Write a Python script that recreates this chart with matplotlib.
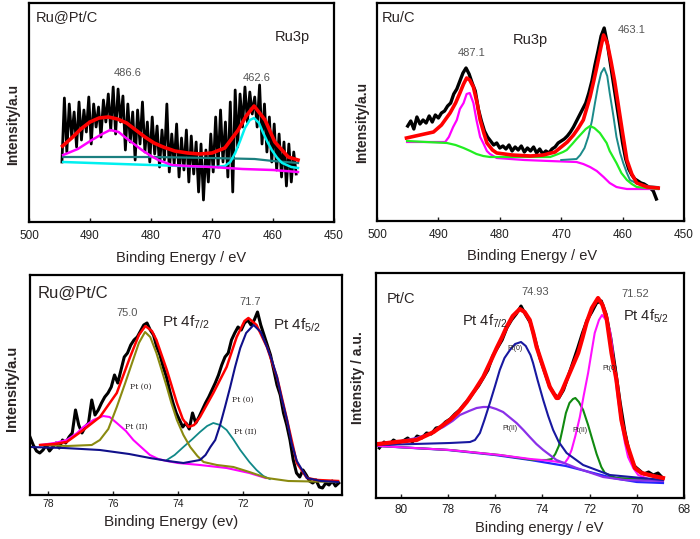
import numpy as np
import matplotlib
matplotlib.use("Agg")
import matplotlib.pyplot as plt

plt.rcParams['font.family'] = ['Liberation Sans', 'DejaVu Sans']
plt.rcParams['mathtext.default'] = 'regular'

# ---------------- Panel 1: Ru@Pt/C Ru3p ----------------
p1_black = [60, 124, 70, 118, 85, 110, 75, 120, 82, 112, 90, 125, 78, 118, 95, 115, 85, 122, 100, 128,
            92, 135, 88, 133, 100, 126, 72, 118, 80, 110, 62, 112, 78, 120, 70, 100, 60, 105, 68, 96,
            55, 92, 62, 118, 50, 88, 58, 98, 45, 84, 52, 92, 40, 86, 48, 80, 30, 78, 22, 72,
            40, 88, 50, 105, 55, 112, 60, 100, 45, 120, 30, 132, 75, 128, 95, 135, 100, 130, 108, 125,
            95, 137, 78, 118, 70, 105, 60, 98, 52, 88, 45, 80, 36, 78, 40, 70, 48]
p1_black_range = (494.6, 456.2)
p1_red_E = [494.5, 493, 491.5, 490, 488.5, 487, 485.5, 484, 482.5, 481, 479.5, 478, 476.1, 474, 472, 470,
            467.9, 465.7, 464.4, 463.1, 461.3, 459.7, 457.5, 455.9]
p1_red_h = [76, 84, 93, 100, 104, 105, 103, 99, 92, 85, 79, 75, 71, 69, 68, 69, 74, 92, 106, 116, 102, 80, 65, 62]
p1_mag_E = [494.4, 492, 489.7, 488, 486.7, 485.3, 484.3, 483, 481.5, 480, 478.8, 476.6, 474, 470, 465, 460, 455.9]
p1_mag_h = [67, 73, 82, 88, 92, 90, 85, 79, 72, 66, 62, 57, 56, 55, 53, 52, 50]
p1_teal_E = [494.4, 480, 470, 463, 460, 455.9]
p1_teal_h = [65, 65, 64, 63, 61, 59]
p1_cyan_E = [494.4, 485, 475, 469.5, 467.9, 467, 466.2, 465.4, 464.6, 463.8, 463.1, 462.3, 461.6, 460.9,
             460.2, 459.3, 458.5, 457, 455.9]
p1_cyan_h = [60, 58, 56, 55, 56, 60, 69, 81, 94, 102, 104, 99, 89, 80, 72, 64, 59, 55, 54]

# ---------------- Panel 2: Ru/C Ru3p ----------------
p2_black = [95, 100, 92, 104, 97, 101, 98, 105, 99, 106, 103, 108, 110, 115, 118, 127, 132, 140, 148, 153,
            147, 138, 130, 112, 100, 90, 84, 80, 76, 78, 73, 75, 72, 76, 70, 74, 71, 75, 69, 73,
            70, 74, 68, 72, 67, 70, 68, 72, 74, 78, 80, 82, 85, 89, 94, 100, 106, 112, 118, 128,
            140, 156, 170, 185, 193, 178, 158, 138, 118, 98, 78, 62, 52, 46, 42, 40, 38, 37, 35, 33,
            30, 22]
p2_black_range = (495.0, 454.5)
p2_red_E = [495.2, 493, 490.8, 489.5, 488.1, 487.2, 486.5, 485.9, 485.4, 484.9, 484.3, 483.7, 483.2, 482.6,
            482.1, 481.2, 480.5, 478, 475, 472.9, 471, 470.2, 469, 468.0, 467.2, 466.4, 465.3, 464.7,
            464.2, 463.6, 463.1, 462.5, 461.9, 461.3, 460.75, 460, 459.3, 458.5, 457.7, 456, 454.2]
p2_red_h = [83, 86, 89, 96, 108, 118, 128, 137, 143, 141, 134, 118, 101, 88, 78, 71, 68, 66, 65, 66,
            69, 73, 79, 86, 93, 101, 124, 140, 154, 172, 186, 178, 160, 140, 118, 88, 61, 47, 38, 34, 33]
p2_teal_E = [470, 467.5, 466.9, 466.2, 465.6, 465.0, 464.5, 464.0, 463.5, 463.0, 462.5, 462.1, 461.5,
             461.0, 460.4, 459.9, 459.3, 458.8, 457.5, 456, 454.2]
p2_teal_h = [61, 62, 66, 73, 84, 100, 118, 135, 148, 153, 145, 128, 105, 84, 68, 58, 48, 41, 37, 35, 34]
p2_green_E = [495.1, 492, 488.6, 487.2, 485.9, 484.8, 483.8, 482.7, 481.6, 478, 474, 471.8, 470.5, 469.7,
              469.1, 468.2, 467.5, 466.9, 466.0, 465.3, 464.6, 463.7, 462.6, 462.1, 461.0, 460.2, 459.3,
              458.5, 457.7, 456, 454.2]
p2_green_h = [80, 79, 78, 76, 73, 70, 67, 65, 64, 64, 64, 64, 67, 69, 71, 77, 82, 86, 92, 95,
              93, 88, 78, 70, 58, 48, 41, 37, 34, 33, 32]
p2_mag_E = [495.1, 492, 488.9, 488.3, 487.6, 487.0, 486.5, 485.9, 485.4, 484.9, 484.3, 483.8, 483.2, 482.7,
            482.1, 481.6, 480.5, 476, 472, 467.5, 466.4, 465.3, 464.2, 463.1, 462.1, 461.0, 460.2, 459.3,
            457, 454.2]
p2_mag_h = [79, 79, 79, 84, 94, 101, 112, 118, 127, 128, 118, 101, 84, 78, 70, 67, 63, 61, 60, 59,
            57, 54, 50, 44, 38, 34, 33, 32, 32, 32]

# ---------------- Panel 3: Ru@Pt/C Pt4f ----------------
p3_black = [58, 50, 44, 42, 45, 50, 44, 48, 52, 47, 55, 52, 58, 62, 85, 70, 62, 68, 72, 95,
            80, 85, 92, 98, 102, 108, 120, 112, 125, 138, 142, 150, 155, 158, 164, 170, 172, 165, 160, 148,
            140, 128, 118, 104, 92, 82, 75, 68, 72, 66, 82, 72, 78, 85, 92, 98, 105, 112, 120, 130,
            138, 142, 155, 162, 168, 165, 172, 175, 170, 175, 183, 170, 160, 150, 140, 125, 110, 100, 82, 70,
            55, 35, 22, 18, 25, 20, 14, 12, 15, 8, 7, 12, 10, 14, 9, 12]
p3_black_range = (78.55, 69.05)
p3_red_E = [78.24, 77.8, 77.42, 76.91, 76.4, 75.88, 75.47, 75.2, 75.0, 74.8, 74.66, 74.34, 74.03, 73.85,
            73.67, 73.5, 73.32, 72.91, 72.5, 72.19, 71.95, 71.83, 71.58, 71.26, 70.95, 70.64, 70.34,
            70.03, 69.7, 69.07]
p3_red_h = [50, 51, 53, 65, 78, 102, 138, 160, 169, 164, 155, 125, 92, 76, 68, 70, 78, 102, 128, 158,
            174, 177, 170, 148, 118, 75, 32, 17, 15, 14]
p3_navy_E = [78.55, 77.5, 76.4, 75.5, 74.86, 74.3, 73.83, 73.32, 73.15, 73.0, 72.85, 72.7, 72.55, 72.39,
             72.24, 72.08, 71.9, 71.67, 71.45, 71.26, 71.1, 70.95, 70.8, 70.64, 70.5, 70.34, 70.03, 69.6, 69.07]
p3_navy_h = [48, 47, 45, 41, 37, 34, 32, 35, 40, 48, 55, 70, 88, 108, 128, 147, 162, 170, 163, 148,
             134, 118, 96, 75, 52, 34, 17, 14, 13]
p3_olive_E = [78.2, 77.4, 76.65, 76.4, 76.14, 75.88, 75.62, 75.4, 75.2, 75.01, 74.85, 74.66, 74.5, 74.34,
              74.2, 74.03, 73.83, 73.62, 73.4, 73.21, 72.8, 72.29, 71.8, 71.26, 70.6, 69.07]
p3_olive_h = [50, 49, 50, 55, 66, 88, 112, 133, 152, 163, 158, 142, 125, 108, 92, 75, 60, 48, 39, 33,
              30, 28, 23, 17, 14, 13]
p3_mag_E = [78.24, 77.8, 77.42, 77.1, 76.91, 76.6, 76.3, 76.1, 75.88, 75.6, 75.37, 75.1, 74.86, 74.6,
            74.34, 74.0, 73.32, 72.5, 71.8, 71.3]
p3_mag_h = [50, 52, 55, 62, 68, 75, 79, 78, 72, 64, 55, 47, 40, 36, 34, 32, 30, 27, 22, 17]
p3_teal_E = [74.34, 74.1, 73.83, 73.55, 73.32, 73.1, 72.91, 72.7, 72.5, 72.3, 72.08, 71.8, 71.58, 71.37, 71.17]
p3_teal_h = [35, 40, 48, 56, 63, 69, 72, 70, 65, 56, 45, 33, 25, 19, 16]

# ---------------- Panel 4: Pt/C Pt4f ----------------
p4_black = [50, 56, 53, 58, 55, 57, 60, 56, 62, 60, 65, 64, 70, 71, 76, 79, 84, 88, 94, 99,
            106, 112, 120, 128, 142, 150, 158, 170, 178, 184, 192, 183, 175, 158, 140, 126, 112, 104, 100, 108,
            122, 136, 150, 165, 178, 186, 195, 197, 184, 160, 128, 95, 66, 44, 32, 28, 24, 26, 23, 25, 20]
p4_black_range = (80.9, 68.9)
p4_red_E = [80.94, 80.2, 79.32, 78.6, 77.91, 77.55, 77.2, 76.85, 76.5, 76.2, 75.93, 75.7, 75.51, 75.25,
            74.95, 74.75, 74.53, 74.38, 74.24, 73.96, 73.68, 73.4, 73.33, 73.15, 72.97, 72.75, 72.48,
            72.3, 72.13, 71.9, 71.64, 71.45, 71.28, 71.07, 70.86, 70.65, 70.43, 70.08, 69.8, 69.3, 68.89]
p4_red_h = [54, 56, 58, 66, 78, 86, 96, 108, 121, 136, 150, 161, 171, 182, 189, 186, 178, 165, 151, 131,
            111, 100, 100, 108, 118, 130, 145, 160, 175, 190, 200, 193, 180, 145, 118, 78, 55, 30, 25, 22, 20]
p4_navy_E = [80.94, 77.91, 77.06, 76.85, 76.64, 76.45, 76.22, 76.0, 75.8, 75.6, 75.37, 75.15, 74.9, 74.7,
             74.5, 74.39, 74.2, 73.96, 73.75, 73.54, 73.3, 72.97, 72.27, 71.14, 68.89]
p4_navy_h = [53, 55, 56, 58, 65, 78, 95, 112, 128, 140, 148, 154, 156, 152, 143, 135, 118, 98, 82, 68,
             56, 45, 33, 23, 18]
p4_purple_E = [80.94, 80.2, 79.32, 78.7, 78.19, 77.8, 77.49, 77.1, 76.78, 76.5, 76.22, 75.95, 75.66, 75.4,
               75.09, 74.8, 74.53, 74.25, 73.96, 73.4, 72.55, 71.42, 70.5, 68.89]
p4_purple_h = [53, 56, 60, 65, 71, 77, 83, 87, 90, 91, 91, 89, 86, 81, 75, 68, 61, 54, 48, 38, 30, 21, 18, 17]
p4_green_E = [80.94, 77.91, 75.8, 74.39, 73.82, 73.6, 73.45, 73.3, 73.15, 73.0, 72.85, 72.7, 72.6, 72.45,
              72.27, 72.06, 71.9, 71.7, 71.5, 71.35, 71.1, 70.86, 68.89]
p4_green_h = [52, 48, 43, 38, 38, 39, 44, 52, 68, 85, 95, 99, 100, 96, 88, 73, 60, 44, 31, 25, 22, 20, 18]
p4_mag_E = [80.94, 77.91, 75.8, 74.5, 73.6, 73.05, 72.9, 72.76, 72.6, 72.41, 72.25, 72.06, 71.9, 71.78,
            71.6, 71.47, 71.3, 71.14, 71.03, 70.93, 70.8, 70.65, 70.5, 70.37, 70.15, 69.94, 69.5, 68.89]
p4_mag_h = [52, 48, 43, 39, 37, 35, 40, 48, 62, 81, 102, 125, 148, 165, 178, 183, 178, 168, 150, 125,
            100, 75, 55, 41, 30, 23, 19, 18]
p4_blue_E = [80.94, 78, 76, 74.5, 73, 72, 71, 70, 68.89]
p4_blue_h = [52, 48, 43, 38, 32, 26, 20, 16, 15]

top_ticks = [500, 490, 480, 470, 460, 450]
p3_ticks = [78, 76, 74, 72, 70]
p4_ticks = [80, 78, 76, 74, 72, 70, 68]

W, H = 700, 539
fig = plt.figure(figsize=(W / 100, H / 100), dpi=100)


def add_ax(l, t, r, b):
    return fig.add_axes([l / W, 1 - b / H, (r - l) / W, (b - t) / H])


def ftext(px, py, s, **kw):
    kw.setdefault('ha', 'center')
    kw.setdefault('va', 'center')
    fig.text(px / W, 1 - py / H, s, **kw)


def style(ax, xlim, ylim, ticks, size=8.5, pad=6):
    ax.set_xlim(*xlim)
    ax.set_ylim(*ylim)
    ax.set_xticks(ticks)
    ax.set_yticks([])
    for s in ax.spines.values():
        s.set_linewidth(1.6)
    ax.tick_params(axis='x', direction='in', length=3, width=1, labelsize=size, pad=pad, colors='#202020')


dark = '#2a2424'
gray = '#555555'

# Panel 1
ax1 = add_ax(29, 3, 334, 222)
style(ax1, (500, 450), (0, 219), top_ticks)
e = np.linspace(p1_black_range[0], p1_black_range[1], len(p1_black))
ax1.plot(e, p1_black, color='black', lw=2.0)
ax1.plot(p1_teal_E, p1_teal_h, color='#1b7f7f', lw=1.6)
ax1.plot(p1_cyan_E, p1_cyan_h, color='#00f0f0', lw=1.8)
ax1.plot(p1_mag_E, p1_mag_h, color='#ff00ff', lw=1.8)
ax1.plot(p1_red_E, p1_red_h, color='#ff0000', lw=2.6)

# Panel 2
ax2 = add_ax(377, 3, 684, 221)
style(ax2, (500, 450), (0, 218), top_ticks)
e = np.linspace(p2_black_range[0], p2_black_range[1], len(p2_black))
ax2.plot(e, p2_black, color='black', lw=2.4)
ax2.plot(p2_mag_E, p2_mag_h, color='#ff00ff', lw=1.6)
ax2.plot(p2_teal_E, p2_teal_h, color='#1b8a8a', lw=1.4)
ax2.plot(p2_green_E, p2_green_h, color='#22ee22', lw=1.6)
ax2.plot(p2_red_E, p2_red_h, color='#ff0000', lw=2.6)

# Panel 3
ax3 = add_ax(30, 275, 342, 495)
style(ax3, (78.55, 68.95), (0, 220), p3_ticks, size=7.5, pad=3)
e = np.linspace(p3_black_range[0], p3_black_range[1], len(p3_black))
ax3.plot(e, p3_black, color='black', lw=2.2)
ax3.plot(p3_mag_E, p3_mag_h, color='#ff00ff', lw=1.5)
ax3.plot(p3_teal_E, p3_teal_h, color='#108888', lw=1.3)
ax3.plot(p3_olive_E, p3_olive_h, color='#8a8a10', lw=1.5)
ax3.plot(p3_red_E, p3_red_h, color='#ff0000', lw=1.8)
ax3.plot(p3_navy_E, p3_navy_h, color='#10108a', lw=1.5)

# Panel 4
ax4 = add_ax(376, 273, 684, 498)
style(ax4, (81.04, 68.0), (0, 225), p4_ticks, size=8.5, pad=4)
e = np.linspace(p4_black_range[0], p4_black_range[1], len(p4_black))
ax4.plot(e, p4_black, color='black', lw=2.2)
ax4.plot(p4_blue_E, p4_blue_h, color='#2525ff', lw=1.6)
ax4.plot(p4_green_E, p4_green_h, color='#108a10', lw=1.5)
ax4.plot(p4_mag_E, p4_mag_h, color='#ff10ff', lw=1.5)
ax4.plot(p4_purple_E, p4_purple_h, color='#8a30e8', lw=1.6)
ax4.plot(p4_navy_E, p4_navy_h, color='#1818a0', lw=1.5)
ax4.plot(p4_red_E, p4_red_h, color='#ff0000', lw=3.0)

# Texts panel 1
ftext(36, 17, 'Ru@Pt/C', ha='left', fontsize=10.5, color=dark)
ftext(275, 37, 'Ru3p', ha='left', fontsize=10.5, color=dark)
ftext(128, 73, '486.6', fontsize=8, color=gray)
ftext(257, 78, '462.6', fontsize=8, color=gray)
ftext(13, 124, 'Intensity/a.u', rotation=90, fontsize=10, fontweight='bold', color=dark)
ftext(181, 258, 'Binding Energy / eV', fontsize=10.5, color=dark)

# Texts panel 2
ftext(382, 18, 'Ru/C', ha='left', fontsize=10.5, color=dark)
ftext(513, 40, 'Ru3p', ha='left', fontsize=10.5, color=dark)
ftext(472, 53, '487.1', fontsize=8, color=gray)
ftext(632, 30, '463.1', fontsize=8, color=gray)
ftext(362, 122, 'Intensity/a.u', rotation=90, fontsize=10, fontweight='bold', color=dark)
ftext(532, 256, 'Binding Energy / eV', fontsize=10.5, color=dark)

# Texts panel 3
ftext(38, 293, 'Ru@Pt/C', ha='left', fontsize=12, color=dark)
ftext(127, 313, '75.0', fontsize=8, color=gray)
ftext(162, 322, 'Pt 4f$_{7/2}$', ha='left', fontsize=11, color=dark)
ftext(250, 302, '71.7', fontsize=8, color=gray)
ftext(273, 325, 'Pt 4f$_{5/2}$', ha='left', fontsize=11, color=dark)
ftext(141, 387, 'Pt (0)', fontsize=5.5, family='DejaVu Serif', color=dark)
ftext(136, 427, 'Pt (II)', fontsize=5.5, family='DejaVu Serif', color=dark)
ftext(243, 400, 'Pt (0)', fontsize=5.5, family='DejaVu Serif', color=dark)
ftext(245, 432, 'Pt (II)', fontsize=5.5, family='DejaVu Serif', color=dark)
ftext(12, 388, 'Intensity/a.u', rotation=90, fontsize=10.5, fontweight='bold', color=dark)
ftext(171, 522, 'Binding Energy (ev)', fontsize=11, color=dark)

# Texts panel 4
ftext(387, 299, 'Pt/C', ha='left', fontsize=10.5, color=dark)
ftext(535, 292, '74.93', fontsize=8, color=gray)
ftext(462, 321, 'Pt 4f$_{7/2}$', ha='left', fontsize=10.5, color=dark)
ftext(635, 294, '71.52', fontsize=8, color=gray)
ftext(623, 316, 'Pt 4f$_{5/2}$', ha='left', fontsize=10.5, color=dark)
ftext(515, 348, 'Pt(0)', fontsize=5, color=dark)
ftext(510, 429, 'Pt(II)', fontsize=5, color=dark)
ftext(580, 430, 'Pt(II)', fontsize=5, color=dark)
ftext(610, 368, 'Pt(0)', fontsize=5, color=dark)
ftext(358, 378, 'Intensity / a.u.', rotation=90, fontsize=10, fontweight='bold', color=dark)
ftext(539, 528, 'Binding energy / eV', fontsize=10.5, color=dark)

fig.savefig('out.png', dpi=100)
